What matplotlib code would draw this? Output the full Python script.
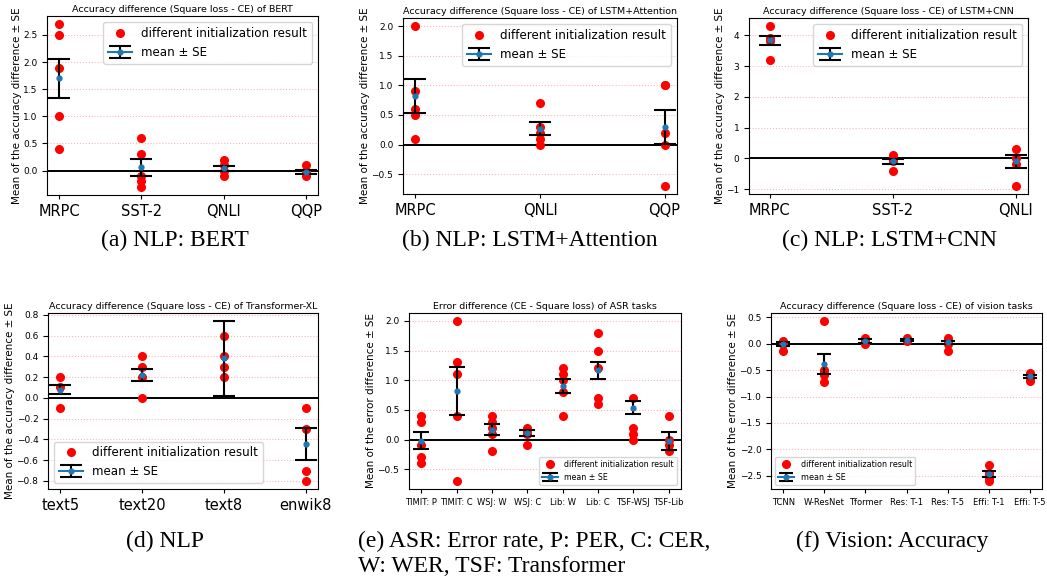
import matplotlib.pyplot as plt

# ---- data ----
# (a) BERT
bert_tasks = ['MRPC', 'SST-2', 'QNLI', 'QQP']
bert_runs = [[2.7, 2.5, 1.9, 1.0, 0.4],
             [0.6, 0.3, -0.1, -0.2, -0.3],
             [0.2, 0.1, 0.0, -0.1],
             [0.1, 0.0, -0.1]]
bert_mean = [1.70, 0.06, 0.04, -0.02]
bert_se = [0.36, 0.155, 0.05, 0.035]

# (b) LSTM+Attention
attn_tasks = ['MRPC', 'QNLI', 'QQP']
attn_runs = [[2.0, 0.9, 0.6, 0.5, 0.1],
             [0.7, 0.3, 0.2, 0.1, 0.0],
             [1.0, 1.0, 0.2, 0.0, -0.7]]
attn_mean = [0.82, 0.265, 0.30]
attn_se = [0.287, 0.107, 0.29]

# (c) LSTM+CNN
cnn_tasks = ['MRPC', 'SST-2', 'QNLI']
cnn_runs = [[4.3, 3.9, 3.8, 3.2],
            [0.1, 0.0, -0.1, -0.4],
            [0.3, 0.0, -0.2, -0.9]]
cnn_mean = [3.83, -0.10, -0.10]
cnn_se = [0.16, 0.09, 0.20]

# (d) Transformer-XL
txl_tasks = ['text5', 'text20', 'text8', 'enwik8']
txl_runs = [[0.2, 0.1, -0.1],
            [0.4, 0.3, 0.2, 0.0],
            [0.6, 0.4, 0.3, 0.2],
            [-0.1, -0.3, -0.7, -0.8]]
txl_mean = [0.08, 0.22, 0.38, -0.44]
txl_se = [0.044, 0.06, 0.36, 0.154]

# (e) ASR
asr_tasks = ['TIMIT: P', 'TIMIT: C', 'WSJ: W', 'WSJ: C',
             'Lib: W', 'Lib: C', 'TSF-WSJ', 'TSF-Lib']
asr_runs = [[0.4, 0.3, -0.1, -0.3, -0.4],
            [2.0, 1.3, 1.1, 0.4, -0.7],
            [0.4, 0.3, 0.2, 0.1, -0.2],
            [0.2, 0.15, 0.1, -0.1],
            [1.2, 1.1, 1.0, 0.8, 0.4],
            [1.8, 1.5, 1.2, 0.7, 0.6],
            [0.7, 0.2, 0.1, 0.0],
            [0.4, 0.0, -0.1, -0.2]]
asr_mean = [-0.02, 0.82, 0.165, 0.105, 0.90, 1.165, 0.54, -0.02]
asr_se = [0.145, 0.41, 0.093, 0.05, 0.115, 0.15, 0.115, 0.15]

# (f) vision
vis_tasks = ['TCNN', 'W-ResNet', 'Tformer', 'Res: T-1',
             'Res: T-5', 'Effi: T-1', 'Effi: T-5']
vis_runs = [[0.05, 0.02, 0.0, -0.13],
            [0.43, -0.5, -0.55, -0.6, -0.73],
            [0.1, 0.05, 0.0],
            [0.1, 0.07, 0.05],
            [0.1, 0.05, 0.0, -0.13],
            [-2.3, -2.45, -2.5, -2.55, -2.6],
            [-0.55, -0.6, -0.65, -0.7]]
vis_mean = [0.0, -0.39, 0.05, 0.075, 0.025, -2.47, -0.615]
vis_se = [0.035, 0.19, 0.03, 0.015, 0.035, 0.055, 0.03]

W, H = 1047, 577
fig = plt.figure(figsize=(W / 100, H / 100), dpi=100)


def add_axes(left, top, right, bottom):
    return fig.add_axes([left / W, 1 - bottom / H, (right - left) / W, (bottom - top) / H])


def panel(ax, tasks, runs, means, ses, title, ylabel, xfs, legloc, legfs, cap):
    for i, vals in enumerate(runs):
        ax.plot([i] * len(vals), vals, 'o', color='red', markersize=5.5,
                label='different initialization result' if i == 0 else None, zorder=3)
    for i in range(len(tasks)):
        ax.errorbar(i, means[i], yerr=ses[i], marker='o', markersize=3.5,
                    color='tab:blue', ecolor='black', elinewidth=1.5,
                    capsize=cap, capthick=1.5,
                    label='mean ± SE' if i == 0 else None, zorder=4)
    ax.axhline(0, color='black', linewidth=1.4, zorder=2)
    ax.yaxis.grid(True, color='red', linestyle=':', alpha=0.3, linewidth=0.8)
    ax.set_axisbelow(True)
    ax.set_xticks(range(len(tasks)))
    ax.set_xticklabels(tasks, fontsize=xfs)
    ax.tick_params(axis='y', labelsize=6.5)
    ax.tick_params(axis='x', length=3)
    ax.set_title(title, fontsize=6.8, pad=3)
    ax.set_ylabel(ylabel, fontsize=7.5, labelpad=1)
    ax.legend(loc=legloc, fontsize=legfs)


acc_label = 'Mean of the accuracy difference ± SE'
err_label = 'Mean of the error difference ± SE'

ax = add_axes(47, 16, 318, 195)
panel(ax, bert_tasks, bert_runs, bert_mean, bert_se,
      'Accuracy difference (Square loss - CE) of BERT', acc_label, 10.5, 'upper right', 8.6, 8)

ax = add_axes(403, 18, 677, 194)
panel(ax, attn_tasks, attn_runs, attn_mean, attn_se,
      'Accuracy difference (Square loss - CE) of LSTM+Attention', acc_label, 10.5, 'upper right', 8.6, 8)

ax = add_axes(749, 18, 1028, 194)
panel(ax, cnn_tasks, cnn_runs, cnn_mean, cnn_se,
      'Accuracy difference (Square loss - CE) of LSTM+CNN', acc_label, 10.5, 'upper right', 8.6, 8)
ax.set_xlim(-0.17, 2.1)

ax = add_axes(48, 313, 318, 489)
panel(ax, txl_tasks, txl_runs, txl_mean, txl_se,
      'Accuracy difference (Square loss - CE) of Transformer-XL', acc_label, 10.5, 'lower left', 8.6, 8)

ax = add_axes(409, 313, 681, 489)
panel(ax, asr_tasks, asr_runs, asr_mean, asr_se,
      'Error difference (CE - Square loss) of ASR tasks', err_label, 6, 'lower right', 5.7, 6)

ax = add_axes(771, 313, 1042, 489)
panel(ax, vis_tasks, vis_runs, vis_mean, vis_se,
      'Accuracy difference (Square loss - CE) of vision tasks', err_label, 6, 'lower left', 5.8, 5)

# captions
cap = dict(fontsize=17, family='Liberation Serif', va='center')
fig.text(175 / W, 1 - 240 / H, '(a) NLP: BERT', ha='center', **cap)
fig.text(530 / W, 1 - 240 / H, '(b) NLP: LSTM+Attention', ha='center', **cap)
fig.text(890 / W, 1 - 240 / H, '(c) NLP: LSTM+CNN', ha='center', **cap)
fig.text(165 / W, 1 - 541 / H, '(d) NLP', ha='center', **cap)
fig.text(358 / W, 1 - 541 / H, '(e) ASR: Error rate, P: PER, C: CER,', ha='left', **cap)
fig.text(358 / W, 1 - 566 / H, 'W: WER, TSF: Transformer', ha='left', **cap)
fig.text(892 / W, 1 - 541 / H, '(f) Vision: Accuracy', ha='center', **cap)

fig.savefig('out.png', dpi=100)
